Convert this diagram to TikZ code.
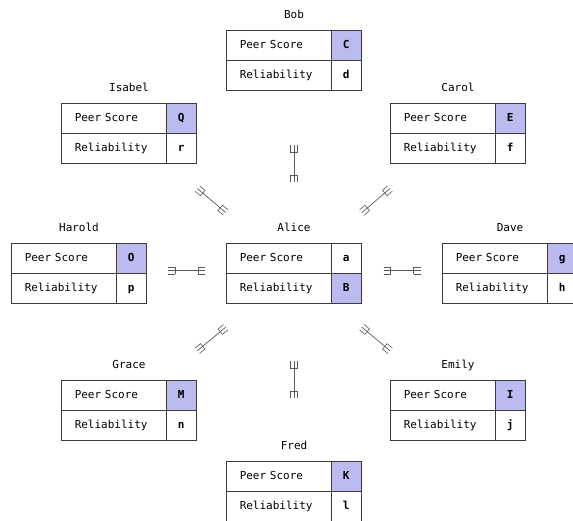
\documentclass[tikz,border=0pt]{standalone}
\usepackage{fontspec}
\setmonofont{DejaVu Sans Mono}
\usetikzlibrary{calc,decorations.markings}
\definecolor{hilite}{RGB}{187,187,240}
\definecolor{rulegray}{RGB}{60,60,60}
\definecolor{linkgray}{RGB}{90,90,90}
\tikzset{
  every node/.style={font=\ttfamily\fontsize{11}{13}\selectfont},
  frame/.style={minimum width=135pt, minimum height=60pt, inner sep=0pt},
  cell/.style={draw=rulegray, line width=0.9pt, minimum height=30pt, inner sep=0pt,
    text height=8pt, text depth=2pt},
  keycell/.style={cell, minimum width=105pt, inner xsep=13pt, text width=79pt, align=left},
  valcell/.style={cell, minimum width=30pt, font=\ttfamily\bfseries\fontsize{11}{13}\selectfont},
  title/.style={anchor=base},
  relline/.style={draw=linkgray, line width=0.7pt,
    decoration={markings,
      mark=at position 0 with {\draw[linkgray, line width=0.6pt]
        (0pt,-3.5pt) -- (7pt,-3.5pt) (0pt,3.5pt) -- (7pt,3.5pt) (7pt,-3.8pt) -- (7pt,3.8pt);},
      mark=at position 1 with {\draw[linkgray, line width=0.6pt]
        (0pt,-3.5pt) -- (-7pt,-3.5pt) (0pt,3.5pt) -- (-7pt,3.5pt) (-7pt,-3.8pt) -- (-7pt,3.8pt);}},
    postaction={decorate}}
}
% \entity{id}{center}{title}{score}{reliability}{score fill}{reliability fill}
\newcommand\entity[7]{%
  \node[frame] (#1) at (#2) {};
  \node[keycell, anchor=north west] (#1-k1) at (#1.north west) {Peer Score};
  \node[valcell, anchor=north east, fill=#6] (#1-v1) at (#1.north east) {#4};
  \node[keycell, anchor=south west] (#1-k2) at (#1.south west) {Reliability};
  \node[valcell, anchor=south east, fill=#7] (#1-v2) at (#1.south east) {#5};
  \node[title] (#1-title) at ([yshift=12pt]#1.north) {#3};
}
% short relationship line centred between two tables
\newcommand\link[2]{%
  \draw[relline] ($(#1)!0.5!(#2)!18.5pt!(#1) + (0,-3)$) -- ($(#1)!0.5!(#2)!18.5pt!(#2) + (0,-3)$);
}
\begin{document}
\begin{tikzpicture}[x=1pt, y=-1pt]
  \useasboundingbox (0,0) rectangle (573,521);
  \entity{bob}{294,60.5}{Bob}{C}{d}{hilite}{white}
  \entity{isabel}{129,133.5}{Isabel}{Q}{r}{hilite}{white}
  \entity{carol}{458,133.5}{Carol}{E}{f}{hilite}{white}
  \entity{harold}{79,273.5}{Harold}{O}{p}{hilite}{white}
  \entity{alice}{294,273.5}{Alice}{a}{B}{white}{hilite}
  \entity{dave}{510,273.5}{Dave}{g}{h}{hilite}{white}
  \entity{grace}{129,410.5}{Grace}{M}{n}{hilite}{white}
  \entity{emily}{458,410.5}{Emily}{I}{j}{hilite}{white}
  \entity{fred}{294,491.5}{Fred}{K}{l}{hilite}{white}
  \link{bob}{alice}
  \link{isabel}{alice}
  \link{carol}{alice}
  \link{harold}{alice}
  \link{alice}{dave}
  \link{grace}{alice}
  \link{emily}{alice}
  \link{alice}{fred}
\end{tikzpicture}
\end{document}
